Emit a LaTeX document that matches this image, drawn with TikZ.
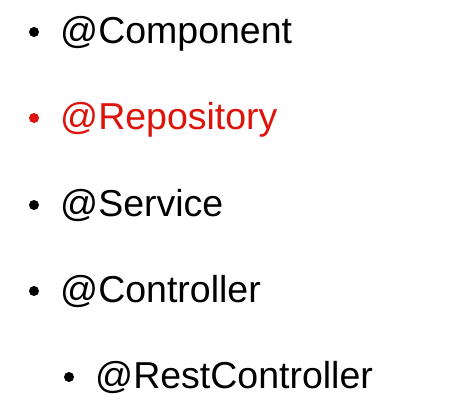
\documentclass[tikz,border=0pt]{standalone}
\usepackage{fontspec}
\setmainfont{Liberation Sans}
\definecolor{repored}{RGB}{220,20,10}
\begin{document}
\begin{tikzpicture}[x=1pt,y=1pt,
  item/.style={anchor=base west,inner sep=0pt,font=\fontsize{37.5}{40}\selectfont},
  dot/.style={circle,fill,inner sep=0pt,minimum size=10pt}]
\useasboundingbox (0,0) rectangle (466,409);
\node[item] (comp) at (60,365) {@Component};
\node[dot] (b1) at (34,377) {};
\node[item,text=repored] (repo) at (60,279) {@Repository};
\node[dot,fill=repored] (b2) at (34,291) {};
\node[item] (serv) at (60,192) {@Service};
\node[dot] (b3) at (34,204) {};
\node[item] (ctrl) at (60,106) {@Controller};
\node[dot] (b4) at (34,118) {};
\node[item] (rest) at (95,20) {@RestController};
\node[dot] (b5) at (69,32) {};
\end{tikzpicture}
\end{document}
